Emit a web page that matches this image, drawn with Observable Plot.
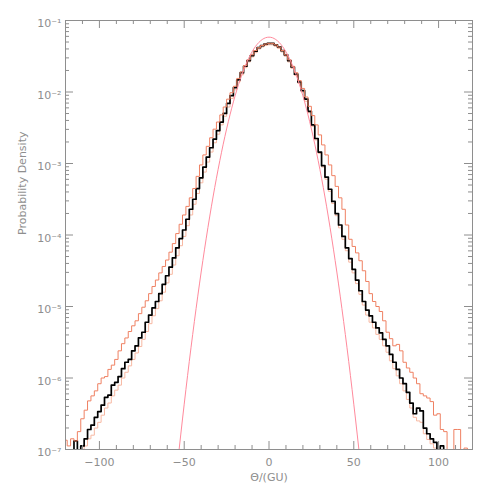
<!DOCTYPE html>
<html><head><meta charset="utf-8">
<script src="https://cdn.jsdelivr.net/npm/d3@7"></script>
<script src="https://cdn.jsdelivr.net/npm/@observablehq/plot@0.6"></script>
<style>body{margin:0;background:#fff}#chart{width:491px;height:491px}</style>
</head><body><div id="chart"></div>
<script>
// Bin centres (Θ, GU) and log10 probability density
const blackX = [-118,-116,-114,-112,-110,-108,-106,-104,-102,-100,-98,-96,-94,-92,-90,-88,-86,-84,-82,-80,-78,-76,-74,-72,-70,-68,-66,-64,-62,-60,-58,-56,-54,-52,-50,-48,-46,-44,-42,-40,-38,-36,-34,-32,-30,-28,-26,-24,-22,-20,-18,-16,-14,-12,-10,-8,-6,-4,-2,0,2,4,6,8,10,12,14,16,18,20,22,24,26,28,30,32,34,36,38,40,42,44,46,48,50,52,54,56,58,60,62,64,66,68,70,72,74,76,78,80,82,84,86,88,90,92,94,96,98,100,102,104,106];
const blackLog = [-7.3,-7.1,-6.88,-7.05,-6.95,-6.85,-6.72,-6.66,-6.55,-6.47,-6.38,-6.27,-6.24,-6.10,-6.06,-5.98,-5.87,-5.78,-5.74,-5.62,-5.55,-5.44,-5.36,-5.22,-5.12,-5.02,-4.93,-4.82,-4.69,-4.57,-4.45,-4.32,-4.18,-4.05,-3.93,-3.78,-3.64,-3.50,-3.35,-3.20,-3.05,-2.91,-2.78,-2.66,-2.54,-2.42,-2.30,-2.16,-2.05,-1.94,-1.83,-1.73,-1.64,-1.56,-1.49,-1.43,-1.38,-1.35,-1.33,-1.32,-1.32,-1.34,-1.37,-1.42,-1.48,-1.56,-1.65,-1.75,-1.86,-1.98,-2.10,-2.27,-2.46,-2.65,-2.84,-3.03,-3.19,-3.36,-3.53,-3.70,-3.86,-4.02,-4.18,-4.33,-4.48,-4.63,-4.78,-4.93,-5.05,-5.13,-5.22,-5.30,-5.37,-5.46,-5.55,-5.67,-5.78,-5.88,-6.00,-6.08,-6.20,-6.35,-6.50,-6.42,-6.46,-6.70,-6.78,-6.85,-6.90,-7.02,-6.95,-7.05,-7.20];

const peachX = [-116,-114,-112,-110,-108,-106,-104,-102,-100,-98,-96,-94,-92,-90,-88,-86,-84,-82,-80,-78,-76,-74,-72,-70,-68,-66,-64,-62,-60,-58,-56,-54,-52,-50,-48,-46,-44,-42,-40,-38,-36,-34,-32,-30,-28,-26,-24,-22,-20,-18,-16,-14,-12,-10,-8,-6,-4,-2,0,2,4,6,8,10,12,14,16,18,20,22,24,26,28,30,32,34,36,38,40,42,44,46,48,50,52,54,56,58,60,62,64,66,68,70,72,74,76,78,80,82,84,86,88,90,92,94,96,98,100];
const peachLog = [-7.2,-7.1,-7.0,-7.0,-6.95,-6.85,-6.8,-6.7,-6.62,-6.52,-6.42,-6.35,-6.25,-6.17,-6.1,-6.0,-5.92,-5.83,-5.74,-5.65,-5.56,-5.46,-5.35,-5.24,-5.13,-5.03,-4.92,-4.80,-4.67,-4.55,-4.42,-4.29,-4.15,-4.02,-3.87,-3.72,-3.57,-3.42,-3.27,-3.12,-2.98,-2.84,-2.71,-2.59,-2.46,-2.34,-2.21,-2.09,-1.97,-1.86,-1.76,-1.66,-1.58,-1.51,-1.45,-1.40,-1.37,-1.35,-1.34,-1.34,-1.36,-1.39,-1.44,-1.50,-1.58,-1.67,-1.77,-1.88,-2.00,-2.13,-2.29,-2.48,-2.67,-2.86,-3.05,-3.22,-3.39,-3.56,-3.73,-3.90,-4.06,-4.22,-4.38,-4.53,-4.68,-4.83,-4.98,-5.12,-5.22,-5.30,-5.39,-5.46,-5.55,-5.64,-5.76,-5.87,-5.97,-6.08,-6.18,-6.30,-6.42,-6.55,-6.60,-6.62,-6.78,-6.86,-6.92,-6.98,-7.10];

const coralX = [-120,-118,-116,-114,-112,-110,-108,-106,-104,-102,-100,-98,-96,-94,-92,-90,-88,-86,-84,-82,-80,-78,-76,-74,-72,-70,-68,-66,-64,-62,-60,-58,-56,-54,-52,-50,-48,-46,-44,-42,-40,-38,-36,-34,-32,-30,-28,-26,-24,-22,-20,-18,-16,-14,-12,-10,-8,-6,-4,-2,0,2,4,6,8,10,12,14,16,18,20,22,24,26,28,30,32,34,36,38,40,42,44,46,48,50,52,54,56,58,60,62,64,66,68,70,72,74,76,78,80,82,84,86,88,90,92,94,96,98,100,102,104,106,108,110,112,114,116,118];
const coralLog = [-6.87,-6.95,-6.85,-6.88,-6.75,-6.57,-6.45,-6.32,-6.25,-6.18,-6.08,-6.00,-5.98,-5.88,-5.82,-5.74,-5.62,-5.52,-5.44,-5.35,-5.27,-5.20,-5.10,-5.01,-4.92,-4.82,-4.72,-4.63,-4.53,-4.44,-4.35,-4.24,-4.12,-3.98,-3.85,-3.72,-3.60,-3.48,-3.35,-3.18,-3.02,-2.88,-2.76,-2.64,-2.52,-2.42,-2.32,-2.21,-2.10,-2.01,-1.92,-1.81,-1.72,-1.63,-1.55,-1.48,-1.42,-1.38,-1.35,-1.33,-1.32,-1.32,-1.34,-1.37,-1.42,-1.48,-1.55,-1.64,-1.73,-1.84,-1.95,-2.07,-2.20,-2.33,-2.46,-2.60,-2.74,-2.88,-3.02,-3.17,-3.32,-3.48,-3.64,-3.86,-4.06,-4.16,-4.25,-4.36,-4.50,-4.65,-4.82,-4.93,-5.00,-5.07,-5.20,-5.36,-5.45,-5.55,-5.53,-5.62,-5.78,-5.86,-5.92,-6.00,-6.08,-6.22,-6.25,-6.28,-6.33,-6.52,-6.50,-6.72,-6.75,-7.10,-7.10,-6.72,-6.72,-7.05,-6.98,-7.20];

// Smooth reference curve (Gaussian)
const gaussX = [-56,-54,-52,-50,-48,-46,-44,-42,-40,-38,-36,-34,-32,-30,-28,-26,-24,-22,-20,-18,-16,-14,-12,-10,-8,-6,-4,-2,0,2,4,6,8,10,12,14,16,18,20,22,24,26,28,30,32,34,36,38,40,42,44,46,48,50,52,54,56];
const gaussLog = [-7.671,-7.219,-6.784,-6.366,-5.963,-5.577,-5.208,-4.855,-4.518,-4.198,-3.894,-3.606,-3.335,-3.081,-2.843,-2.621,-2.416,-2.227,-2.054,-1.898,-1.759,-1.635,-1.529,-1.438,-1.364,-1.307,-1.266,-1.241,-1.233,-1.241,-1.266,-1.307,-1.364,-1.438,-1.529,-1.635,-1.759,-1.898,-2.054,-2.227,-2.416,-2.621,-2.843,-3.081,-3.335,-3.606,-3.894,-4.198,-4.518,-4.855,-5.208,-5.577,-5.963,-6.366,-6.784,-7.219,-7.671];

// Axis ticks
const xMajorTicks = [-100,-50,0,50,100];
const xMinorTicks = [-120,-110,-90,-80,-70,-60,-40,-30,-20,-10,10,20,30,40,60,70,80,90,110,120];
const yMajorTicks = [1e-7,1e-6,1e-5,1e-4,1e-3,1e-2,1e-1];
const yMinorMult = [2,3,4,5,6,7,8,9];
const xLabel = "Θ/(GU)";
const yLabel = "Probability Density";

const yMinorTicks = yMajorTicks.slice(0,-1).flatMap(d => yMinorMult.map(m => d*m));
const rows = (xs, logs) => xs.map((x,i) => ({x, y: Math.pow(10, logs[i])}));

const W = 491, H = 491, mL = 65, mR = 19, mT = 20, mB = 42;
const pW = W - mL - mR, pH = H - mT - mB;
const gray = "#8e8e8e";
const sup = {"-":"\u207B","0":"\u2070","1":"\u00B9","2":"\u00B2","3":"\u00B3","4":"\u2074","5":"\u2075","6":"\u2076","7":"\u2077","8":"\u2078","9":"\u2079"};
const fmtPow = d => "10" + String(Math.round(Math.log10(d))).split("").map(c => sup[c]).join("");
const fmtX = d => d < 0 ? "\u2212" + Math.abs(d) : String(d);

const chart = Plot.plot({
  width: W, height: H,
  marginLeft: mL, marginRight: mR, marginTop: mT, marginBottom: mB,
  style: {fontFamily: "DejaVu Sans, sans-serif", fontSize: "11px", color: gray, background: "#fff"},
  x: {domain: [-120, 120], axis: null},
  y: {type: "log", domain: [1e-7, 1e-1], axis: null},
  marks: [
    Plot.lineY(rows(peachX, peachLog), {x: "x", y: "y", curve: "step", stroke: "#f7b8a2", strokeWidth: 1, clip: true}),
    Plot.lineY(rows(blackX, blackLog), {x: "x", y: "y", curve: "step", stroke: "#000", strokeWidth: 1.7, clip: true}),
    Plot.lineY(rows(coralX, coralLog), {x: "x", y: "y", curve: "step", stroke: "#ef8062", strokeWidth: 1, clip: true}),
    Plot.lineY(rows(gaussX, gaussLog), {x: "x", y: "y", curve: "natural", stroke: "#ff8a9c", strokeWidth: 1, clip: true}),
    Plot.frame({stroke: gray}),
    // bottom & top ticks
    Plot.tickX(xMajorTicks, {x: d => d, stroke: gray, insetTop: pH - 8}),
    Plot.tickX(xMajorTicks, {x: d => d, stroke: gray, insetBottom: pH - 8}),
    Plot.tickX(xMinorTicks, {x: d => d, stroke: gray, insetTop: pH - 4}),
    Plot.tickX(xMinorTicks, {x: d => d, stroke: gray, insetBottom: pH - 4}),
    // left & right ticks
    Plot.tickY(yMajorTicks, {y: d => d, stroke: gray, insetRight: pW - 8}),
    Plot.tickY(yMajorTicks, {y: d => d, stroke: gray, insetLeft: pW - 8}),
    Plot.tickY(yMinorTicks, {y: d => d, stroke: gray, insetRight: pW - 4}),
    Plot.tickY(yMinorTicks, {y: d => d, stroke: gray, insetLeft: pW - 4}),
    // tick labels
    Plot.text(xMajorTicks, {x: d => d, frameAnchor: "bottom", dy: 13, text: fmtX, fill: gray, fontSize: 11, lineAnchor: "middle"}),
    Plot.text(yMajorTicks, {y: d => d, frameAnchor: "left", dx: -4, dy: 3, text: fmtPow, fill: gray, fontSize: 11, textAnchor: "end", lineAnchor: "middle"}),
    // axis titles
    Plot.text([xLabel], {frameAnchor: "bottom", dy: 28, text: d => d, fill: gray, fontSize: 11, lineAnchor: "middle"}),
    Plot.text([yLabel], {frameAnchor: "left", dx: -43, text: d => d, fill: gray, fontSize: 11, rotate: -90, lineAnchor: "middle"})
  ]
});
document.getElementById("chart").append(chart);
</script>
</body></html>
